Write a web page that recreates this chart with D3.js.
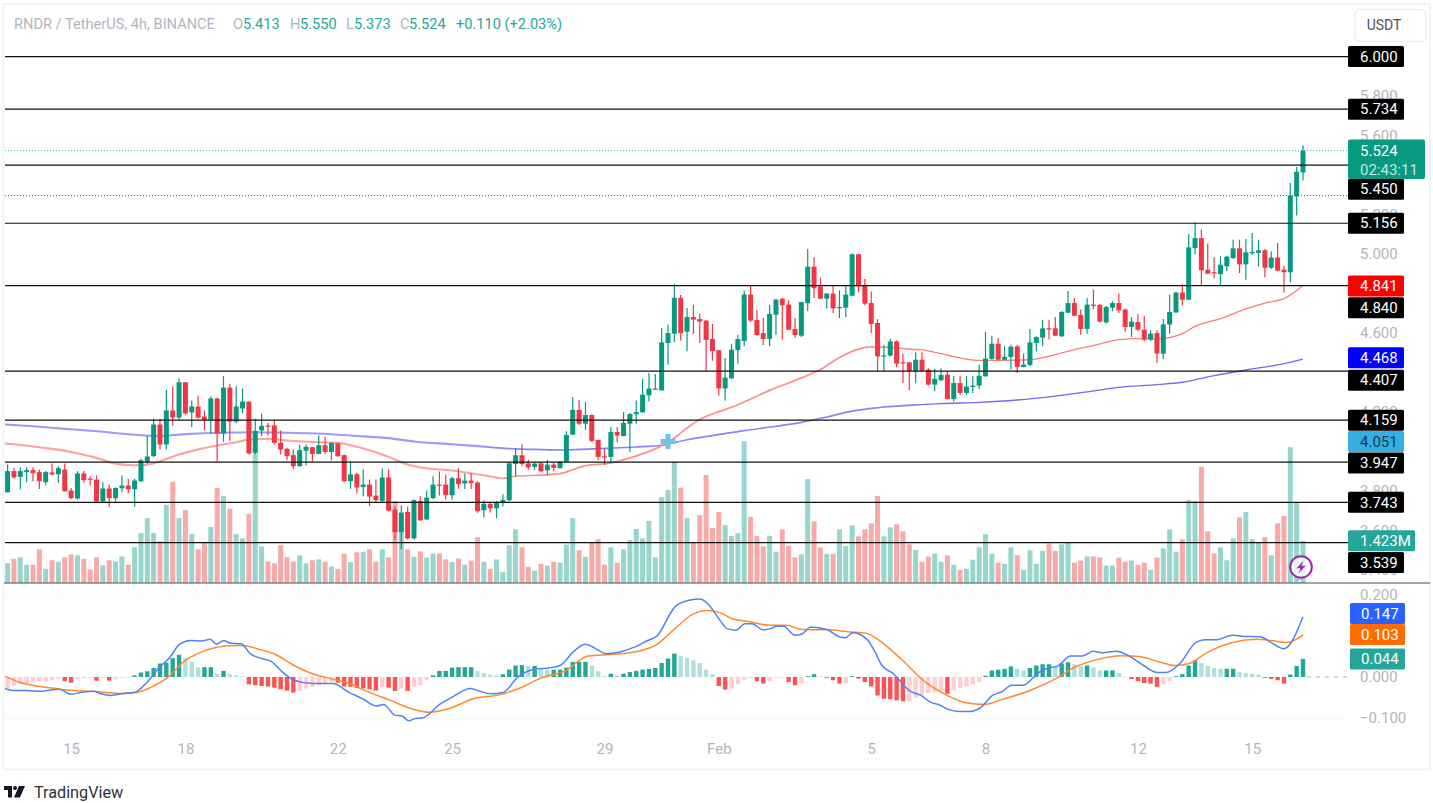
<!DOCTYPE html>
<html><head><meta charset="utf-8">
<script src="https://d3js.org/d3.v7.min.js"></script>
<style>
html,body{margin:0;padding:0;background:#fff;overflow:hidden}
text{font-family:Roboto,"Noto Sans",sans-serif}
</style></head><body><svg id="c" width="1433" height="803"></svg>
<script>
const opens=[3.794,3.901,3.872,3.896,3.906,3.896,3.845,3.894,3.885,3.909,
3.803,3.762,3.889,3.863,3.858,3.747,3.813,3.764,3.814,3.828,
3.809,3.850,3.948,3.977,4.137,4.036,4.208,4.172,4.351,4.198,
4.228,4.177,4.162,4.269,4.091,4.324,4.152,4.218,4.253,3.993,
4.107,4.132,4.132,4.044,4.014,3.982,3.926,4.004,4.022,3.988,
4.032,3.998,4.041,3.982,3.850,3.885,3.820,3.833,3.777,3.749,
3.869,3.706,3.592,3.695,3.560,3.750,3.656,3.764,3.833,3.833,
3.779,3.865,3.838,3.853,3.843,3.703,3.735,3.713,3.743,3.753,
3.937,3.981,3.940,3.922,3.940,3.905,3.934,3.917,3.949,4.086,
4.211,4.141,4.185,4.059,3.976,3.973,4.099,4.079,4.141,4.189,
4.199,4.285,4.315,4.310,4.550,4.597,4.779,4.607,4.681,4.671,
4.663,4.570,4.513,4.320,4.371,4.514,4.560,4.795,4.666,4.600,
4.570,4.693,4.774,4.744,4.621,4.587,4.751,4.936,4.835,4.774,
4.800,4.729,4.729,4.789,4.999,4.842,4.752,4.651,4.484,4.486,
4.558,4.452,4.452,4.408,4.465,4.415,4.339,4.361,4.389,4.266,
4.347,4.297,4.327,4.334,4.381,4.469,4.546,4.465,4.479,4.533,
4.428,4.438,4.550,4.577,4.624,4.624,4.584,4.703,4.752,4.692,
4.621,4.744,4.742,4.654,4.729,4.752,4.719,4.631,4.656,4.617,
4.567,4.600,4.496,4.643,4.705,4.805,4.769,5.031,5.081,4.921,
4.908,4.898,4.938,4.980,5.029,4.948,5.004,5.006,5.019,4.931,
4.982,4.921,4.908,5.292,5.413];
const closes=[3.901,3.870,3.901,3.906,3.890,3.850,3.896,3.884,3.916,3.799,
3.764,3.889,3.855,3.858,3.747,3.813,3.764,3.816,3.828,3.809,
3.853,3.956,3.975,4.137,4.036,4.208,4.172,4.351,4.193,4.228,
4.172,4.161,4.269,4.091,4.324,4.152,4.228,4.253,3.990,4.105,
4.130,4.127,4.044,4.010,3.977,3.926,4.007,4.024,3.988,4.032,
3.998,4.044,3.977,3.850,3.884,3.818,3.833,3.772,3.754,3.869,
3.701,3.592,3.691,3.560,3.754,3.652,3.767,3.833,3.830,3.779,
3.865,3.835,3.853,3.840,3.698,3.735,3.713,3.746,3.755,3.940,
3.981,3.937,3.920,3.939,3.900,3.934,3.917,3.949,4.084,4.211,
4.141,4.185,4.054,3.973,3.973,4.099,4.081,4.145,4.190,4.200,
4.288,4.319,4.319,4.553,4.600,4.779,4.600,4.681,4.668,4.658,
4.565,4.509,4.320,4.374,4.516,4.570,4.795,4.663,4.590,4.570,
4.697,4.769,4.741,4.617,4.590,4.757,4.936,4.827,4.774,4.800,
4.725,4.732,4.795,4.999,4.837,4.749,4.646,4.482,4.487,4.558,
4.445,4.449,4.408,4.465,4.410,4.339,4.368,4.388,4.266,4.347,
4.297,4.329,4.334,4.384,4.471,4.546,4.465,4.479,4.531,4.428,
4.440,4.553,4.580,4.624,4.621,4.587,4.707,4.752,4.688,4.621,
4.744,4.741,4.658,4.732,4.752,4.715,4.631,4.658,4.617,4.567,
4.597,4.496,4.644,4.707,4.805,4.769,5.034,5.081,4.918,4.901,
4.903,4.946,4.987,5.029,4.948,5.009,5.011,5.019,4.931,4.982,
4.916,4.908,5.296,5.417,5.524];
const highs=[3.934,3.917,3.921,3.921,3.921,3.909,3.901,3.939,3.926,3.939,
3.815,3.901,3.901,3.875,3.879,3.845,3.833,3.818,3.879,3.862,
3.862,3.963,4.081,4.166,4.166,4.314,4.331,4.371,4.351,4.258,
4.284,4.208,4.279,4.272,4.382,4.344,4.331,4.319,4.255,4.167,
4.191,4.145,4.159,4.107,4.019,4.010,4.034,4.036,4.024,4.081,
4.074,4.047,4.044,3.985,3.951,3.892,3.909,3.858,3.858,3.914,
3.909,3.723,3.727,3.720,3.757,3.774,3.803,3.875,3.899,3.884,
3.872,3.916,3.889,3.892,3.850,3.753,3.746,3.750,3.782,3.947,
4.015,4.037,3.959,3.946,3.946,3.959,3.946,3.952,4.103,4.276,
4.261,4.251,4.189,4.060,4.015,4.124,4.124,4.200,4.195,4.258,
4.369,4.398,4.393,4.626,4.643,4.850,4.793,4.727,4.744,4.698,
4.668,4.646,4.514,4.474,4.546,4.592,4.815,4.842,4.715,4.678,
4.742,4.774,4.778,4.766,4.676,4.759,5.026,4.984,4.881,4.803,
4.842,4.816,4.840,5.004,5.002,4.874,4.810,4.671,4.538,4.570,
4.563,4.496,4.455,4.503,4.503,4.422,4.418,4.422,4.406,4.384,
4.384,4.384,4.384,4.440,4.606,4.587,4.575,4.533,4.541,4.541,
4.496,4.621,4.584,4.668,4.668,4.681,4.710,4.813,4.778,4.719,
4.776,4.820,4.747,4.736,4.761,4.800,4.725,4.681,4.697,4.688,
4.614,4.614,4.671,4.795,4.808,4.850,5.102,5.161,5.124,5.054,
4.984,4.989,4.992,5.073,5.073,5.076,5.107,5.073,5.026,5.014,
5.056,4.941,5.360,5.441,5.550];
const lows=[3.791,3.862,3.808,3.845,3.850,3.811,3.828,3.879,3.842,3.796,
3.760,3.757,3.842,3.828,3.744,3.744,3.720,3.747,3.794,3.788,
3.720,3.845,3.939,3.973,4.010,4.010,4.132,4.162,4.188,4.125,
4.166,4.107,4.091,3.951,4.049,4.054,4.145,4.193,3.985,3.985,
4.078,4.081,4.036,3.985,3.956,3.912,3.923,3.929,3.951,3.987,
3.987,3.956,3.973,3.845,3.811,3.788,3.774,3.723,3.740,3.740,
3.696,3.551,3.507,3.555,3.555,3.649,3.652,3.760,3.777,3.757,
3.757,3.811,3.811,3.811,3.690,3.667,3.692,3.662,3.723,3.748,
3.875,3.925,3.908,3.908,3.895,3.881,3.900,3.912,3.946,4.082,
4.135,4.111,4.047,3.956,3.932,3.946,4.047,4.077,3.996,4.141,
4.195,4.253,4.313,4.307,4.440,4.553,4.563,4.508,4.595,4.550,
4.406,4.460,4.283,4.258,4.368,4.445,4.533,4.656,4.587,4.540,
4.533,4.592,4.567,4.614,4.575,4.580,4.712,4.778,4.774,4.724,
4.702,4.676,4.681,4.786,4.806,4.741,4.600,4.406,4.406,4.482,
4.428,4.347,4.310,4.346,4.405,4.334,4.305,4.356,4.263,4.254,
4.288,4.287,4.297,4.317,4.378,4.465,4.462,4.462,4.415,4.398,
4.427,4.435,4.508,4.533,4.567,4.584,4.580,4.702,4.685,4.592,
4.597,4.722,4.654,4.648,4.710,4.702,4.607,4.580,4.609,4.558,
4.558,4.449,4.469,4.597,4.702,4.741,4.766,4.999,4.844,4.898,
4.876,4.840,4.914,4.975,4.904,4.870,4.997,4.938,4.881,4.925,
4.913,4.806,4.857,5.195,5.373];
const volumes=[.66,.81,.86,.61,.61,1.13,.47,.76,.71,.86,
.96,.93,.81,.45,.86,.59,.76,.72,.89,.61,
1.20,1.68,2.19,1.68,1.40,2.64,3.42,2.19,2.46,1.65,
1.13,1.38,1.89,3.21,2.94,2.50,1.64,1.50,2.33,4.38,
1.23,.72,.66,1.27,.86,.72,.93,.66,.76,.79,
.71,.55,.47,.99,.69,1.03,1.05,1.13,.72,1.13,
.86,2.76,1.95,1.13,.88,1.06,.85,.99,.99,.79,
.70,.82,.61,.75,1.54,.71,.47,.79,.37,1.27,
1.81,1.20,.54,.41,.64,.58,.71,.68,1.29,2.19,
1.10,.88,1.36,1.47,.61,1.20,.68,1.13,1.45,1.82,
1.50,2.09,.86,2.90,3.14,4.10,3.22,2.19,1.36,2.29,
3.65,1.85,2.40,1.95,1.58,1.68,4.79,2.23,1.58,1.23,
1.58,1.05,1.81,1.25,.86,.96,3.51,2.08,1.20,.98,
.98,1.81,1.24,1.94,1.57,1.81,2.01,2.94,1.57,1.88,
1.98,1.74,1.30,1.11,.71,.89,.99,.71,.93,.61,
.44,.47,.78,1.20,1.64,.99,.68,.64,1.20,.93,
.44,1.10,.64,1.08,1.33,1.08,1.30,1.37,.68,.75,
.89,.89,.86,.58,.58,.85,.71,.75,.61,.68,
.44,.85,1.16,1.81,1.05,1.47,2.80,2.77,3.93,1.74,
.99,1.20,.76,1.50,2.21,2.40,1.47,1.36,1.54,.93,
2.01,2.26,4.59,2.71,1.423];
const ema50Index=[-.4,5,10,14,17,20,22,24,27,30,33,36,38,41,44,49,52,54,58,60,63,65,70,74,78,80,84,87,89,91,95,98,101,103,105,107,109,112,114,117,120,123,125,128,131,134,136,139,142,144,147,150,153,157,161,165,168,171,175,178,181,185,187,191,195,198,201,204];
const ema50=[4.041,4.022,3.998,3.968,3.939,3.931,3.934,3.951,3.985,4.010,4.031,4.047,4.061,4.064,4.056,4.047,4.044,4.032,3.997,3.973,3.934,3.919,3.904,3.885,3.863,3.875,3.881,3.888,3.908,3.929,3.942,3.968,4.001,4.030,4.069,4.119,4.162,4.202,4.224,4.266,4.310,4.347,4.373,4.415,4.476,4.519,4.530,4.528,4.519,4.516,4.496,4.474,4.462,4.462,4.465,4.491,4.516,4.536,4.567,4.572,4.570,4.597,4.634,4.673,4.722,4.752,4.774,4.841];
const ema200Index=[-.4,4,9,14,20,24,27,33,39,44,51,55,60,64,70,75,79,84,88,93,99,103,107,111,116,121,125,129,133,137,143,147,153,159,165,170,175,181,185,190,195,201,204];
const ema200=[4.137,4.128,4.115,4.103,4.085,4.079,4.086,4.095,4.098,4.095,4.088,4.079,4.068,4.051,4.037,4.025,4.015,4.010,4.008,4.015,4.023,4.032,4.060,4.081,4.106,4.128,4.148,4.175,4.205,4.222,4.236,4.243,4.249,4.261,4.281,4.302,4.325,4.339,4.351,4.384,4.413,4.445,4.468];
const macdIndex=[-.4,1,3.1,5,8.2,10,11.8,13.6,14.7,16.2,18.3,20.1,22,23.7,25.6,27.1,28.8,30.6,31.9,32.9,34,35,36.8,38.2,40,41.5,43.3,45.1,48,51.2,53.8,55.9,58.1,59.2,61,62.1,63.2,64.2,65.3,68.2,70,72.9,74.4,76.2,78,80.5,83,85.2,87,89.2,91,92.4,94.3,96.4,98.9,100.8,102.2,105.1,107.3,109.1,110.7,112.2,113.3,114.7,116.1,117.2,119,120.1,121.2,122.2,124,125.1,126.5,127.6,129,131.2,131.9,133.1,134.1,135.5,136.6,137.7,139.5,142,143.8,145.6,146.6,148.1,149.9,151.6,153.1,155.1,156.7,158.1,159.9,162.4,163.8,165.3,167.4,169.2,171,172.4,174.6,176.4,178.9,181.1,182.5,184.6,187.2,188.6,190.4,192.9,194.7,197.2,199,201,204];
const macdLine=[-.028,-.033,-.033,-.035,-.030,-.042,-.037,-.035,-.041,-.045,-.040,-.037,-.012,.020,.049,.080,.089,.088,.092,.080,.089,.083,.081,.057,.045,.038,.012,-.008,-.016,-.016,-.038,-.053,-.071,-.067,-.093,-.095,-.107,-.101,-.100,-.065,-.049,-.028,-.035,-.041,-.038,.002,.019,.022,.028,.063,.080,.071,.057,.061,.074,.089,.099,.171,.187,.190,.171,.138,.118,.114,.130,.130,.115,.118,.124,.124,.102,.105,.122,.120,.116,.097,.096,.108,.105,.089,.061,.028,.008,-.033,-.045,-.063,-.067,-.079,-.084,-.084,-.076,-.045,-.035,-.020,-.020,.011,.022,.026,.051,.051,.063,.059,.063,.053,.028,.011,.011,.033,.085,.091,.091,.102,.099,.098,.084,.069,.147];
const signalIndex=[-.4,1.7,3.9,7.5,10.4,13.3,17.6,20.5,22.7,25.6,27.7,29.9,32.8,35,37.1,39.3,42.2,45.1,48,50.9,53.8,56.6,60.3,63.9,66.4,69.7,73.3,77.6,80.5,84.1,87.7,91.4,95,99.3,102.2,105.1,108,110.2,112.2,114.3,116.5,120.1,122.6,125.1,129.4,132.6,135.1,137.3,140.9,144.5,148.1,150.9,153.8,156.7,161,165.3,168.1,171.7,175.3,178.2,181.1,183.9,186.1,188.6,192.9,196.8,199,201.5,204];
const signalLine=[.002,-.012,-.020,-.028,-.033,-.035,-.040,-.037,-.024,.004,.037,.057,.072,.076,.077,.069,.055,.028,.008,-.004,-.016,-.035,-.057,-.079,-.086,-.076,-.053,-.043,-.028,-.002,.014,.051,.055,.063,.079,.118,.154,.162,.157,.141,.136,.126,.126,.116,.115,.110,.107,.089,.041,-.012,-.046,-.063,-.067,-.054,-.033,-.002,.024,.043,.052,.050,.038,.028,.033,.057,.084,.092,.089,.084,.103];
const histogram=[-.027,-.022,-.016,-.015,-.013,-.011,-.011,-.007,-.004,-.010,
-.014,-.005,-.003,-.002,-.009,-.002,-.009,-.006,-.002,-.001,
.004,.011,.014,.022,.033,.035,.046,.054,.046,.037,
.024,.024,.024,.008,.015,.007,.004,.002,-.018,-.020,
-.022,-.023,-.026,-.030,-.033,-.038,-.034,-.028,-.024,-.020,
-.016,-.012,-.014,-.023,-.024,-.027,-.028,-.030,-.033,-.024,
-.026,-.034,-.028,-.034,-.024,-.020,-.007,.004,.015,.015,
.023,.024,.024,.024,.014,.010,.006,.004,.007,.018,
.028,.029,.027,.027,.020,.018,.018,.018,.023,.037,
.037,.037,.028,.014,.002,.008,.004,.008,.012,.015,
.018,.020,.022,.034,.045,.057,.051,.047,.041,.034,
.018,.007,-.022,-.031,-.028,-.018,-.007,-.003,-.010,-.016,
-.010,-.002,-.002,-.012,-.020,-.015,.002,.007,.001,-.002,
-.008,-.016,-.015,.002,-.004,-.012,-.023,-.045,-.053,-.054,
-.057,-.059,-.059,-.050,-.045,-.039,-.037,-.034,-.041,-.033,
-.026,-.023,-.018,-.012,.003,.016,.018,.020,.026,.020,
.016,.022,.028,.031,.031,.027,.033,.036,.031,.026,
.028,.023,.016,.016,.016,.010,.001,-.005,-.010,-.015,
-.016,-.024,-.018,-.010,.002,.007,.028,.041,.034,.027,
.022,.020,.020,.020,.012,.010,.008,.006,-.002,-.005,
-.008,-.016,.006,.027,.044];
const dayIndex=[10,28,52,70,94,112,136,154,178,196];
const dayLabels=["15","18","22","25","29","Feb","5","8","12","15"];
const priceTicks=[5.8,5.6,5.2,5,4.6,4.2,3.8,3.6,3.4];
const macdTicks=[.2,0,-.1];
const levels=[6,5.734,5.45,5.156,4.84,4.407,4.159,3.947,3.743,3.539];
const levelNudge=[0,0,24,0,22,9,0,0,0,20];
const lastPrice=5.524, priorLine=5.296, ema50Last=4.841, ema200Last=4.468, markerPrice=4.051, markerIndex=104;

const W=1433,H=803,GREEN="#089981",RED="#f23645",GREY="#b2b5be";
const svg=d3.select("#c");
const x=d3.scaleLinear().domain([0,204]).range([7.6,1303]);
const y=d3.scaleLinear().domain([6,3.539]).range([56.6,542.6]);
const v=d3.scaleLinear().domain([0,1.423]).range([582.7,540.7]);
const m=d3.scaleLinear().domain([-.1,.2]).range([718,595]);
const idx=d3.range(opens.length);
const up=i=>closes[i]>=opens[i];

// frame
svg.append("rect").attr("x",3.5).attr("y",4).attr("width",1426.5).attr("height",765.5).attr("fill","none").attr("stroke","#f0f3fa").attr("stroke-width",2);
// faint grid
svg.append("g").selectAll("line").data(macdTicks).join("line").attr("x1",5).attr("x2",1348).attr("y1",d=>m(d)).attr("y2",d=>m(d)).attr("stroke","#f6f7fb");

// axes
const pa=svg.append("g").attr("transform","translate(1360,0)").call(d3.axisRight(y).tickValues(priceTicks).tickSize(0).tickPadding(0).tickFormat(d3.format(".3f")));
const ma=svg.append("g").attr("transform","translate(1360,0)").call(d3.axisRight(m).tickValues(macdTicks).tickSize(0).tickPadding(0).tickFormat(d=>d3.format(".3f")(d).replace("-","\u2212")));
const ta=svg.append("g").attr("transform","translate(0,743)").call(d3.axisBottom(x).tickValues(dayIndex).tickSize(0).tickPadding(0).tickFormat((d,i)=>dayLabels[i]));
[pa,ma,ta].forEach(a=>{a.select(".domain").remove();a.selectAll("text").attr("fill",GREY).attr("font-size",15).attr("font-family","Roboto")});

// volume
svg.append("g").selectAll("rect").data(idx).join("rect")
 .attr("x",i=>x(i)-2.5).attr("width",5).attr("y",i=>v(volumes[i])).attr("height",i=>v(0)-v(volumes[i]))
 .attr("fill",i=>up(i)?"#97d5cd":"#f8aaa9");

// moving averages: soft and wide on the left of the picture, finer to the right
const line=(xs,ys,sx,sy,keep)=>d3.line().defined(keep||(()=>true)).x(i=>sx(xs[i])).y(i=>sy(ys[i])).curve(d3.curveMonotoneX)(d3.range(xs.length));
function maLine(xs,ys,soft,mid,hard){
 const seg=(a,b,col,w)=>svg.append("path").attr("d",line(xs,ys,x,y,i=>xs[i]>=a&&xs[i]<=b)).attr("fill","none").attr("stroke",col).attr("stroke-width",w);
 const cut1=xs.find(d=>d>=75),cut2=xs.find(d=>d>=143);
 seg(-1,cut1,soft,2.1);seg(cut1,cut2,mid,1.7);seg(cut2,205,hard,1.3);
}
maLine(ema200Index,ema200,"#9d9bf8","#8886f6","#6f6cf2");
maLine(ema50Index,ema50,"#f9a3a2","#f8908f","#f77e7e");

// candles
const cg=svg.append("g");
cg.selectAll("line").data(idx).join("line").attr("x1",x).attr("x2",x).attr("y1",i=>y(highs[i])).attr("y2",i=>y(lows[i]))
 .attr("stroke",i=>up(i)?GREEN:RED).attr("stroke-width",1.2);
cg.selectAll("rect").data(idx).join("rect").attr("x",i=>x(i)-2.5).attr("width",5)
 .attr("y",i=>y(Math.max(opens[i],closes[i]))).attr("height",i=>Math.max(1.2,Math.abs(y(opens[i])-y(closes[i]))))
 .attr("fill",i=>up(i)?GREEN:RED);

// marker
svg.append("path").attr("transform",`translate(${x(markerIndex)},${y(markerPrice)})`).attr("d",d3.symbol(d3.symbolCross,125)()).attr("fill","#6cc3ec");

// level lines
svg.append("g").selectAll("line").data(levels).join("line").attr("x1",5).attr("x2",1348).attr("y1",d=>y(d)).attr("y2",d=>y(d)).attr("stroke","#111").attr("stroke-width",1.2);
svg.append("line").attr("x1",5).attr("x2",1348).attr("y1",y(lastPrice)).attr("y2",y(lastPrice)).attr("stroke","#3fb3a0").attr("stroke-width",1).attr("stroke-dasharray","1 2");
svg.append("line").attr("x1",5).attr("x2",1348).attr("y1",y(priorLine)).attr("y2",y(priorLine)).attr("stroke","#555").attr("stroke-width",1).attr("stroke-dasharray","1 2");
// pane separator
svg.append("line").attr("x1",4).attr("x2",1430).attr("y1",583).attr("y2",583).attr("stroke","#4a4a4a").attr("stroke-width",1.2);

// histogram
const hcol=i=>{const d=histogram[i],p=i?histogram[i-1]:d;return d>=0?(d>=p?"#26a69a":"#b2dfdb"):(d<p?"#ff5252":"#ffcdd2")};
svg.append("g").selectAll("rect").data(idx).join("rect").attr("x",i=>x(i)-2.2).attr("width",4.4)
 .attr("y",i=>Math.min(m(0),m(histogram[i]))).attr("height",i=>Math.abs(m(0)-m(histogram[i]))).attr("fill",hcol);
svg.append("line").attr("x1",x(204)+4).attr("x2",1350).attr("y1",m(0)).attr("y2",m(0)).attr("stroke","#b2b5be").attr("stroke-dasharray","4 5");
svg.append("path").attr("d",line(signalIndex,signalLine,x,m)).attr("fill","none").attr("stroke","#ff8a2b").attr("stroke-width",1.5);
svg.append("path").attr("d",line(macdIndex,macdLine,x,m)).attr("fill","none").attr("stroke","#5081f5").attr("stroke-width",1.5);

// value labels
function tag(cy,w,txt,bg,fg){const g=svg.append("g");
 g.append("rect").attr("x",1348).attr("y",cy-10.5).attr("width",w).attr("height",21).attr("rx",1.5).attr("fill",bg);
 g.append("text").attr("x",1360).attr("y",cy+5.2).attr("fill",fg).attr("font-size",15).text(txt);}
levels.forEach((d,i)=>tag(y(d)+levelNudge[i]+(d===3.947?1:0),56,d3.format(".3f")(d),"#000","#fff"));
tag(y(ema50Last)+.5,56,d3.format(".3f")(ema50Last),"#ff0000","#fff");
tag(y(ema200Last)-1.5,56,d3.format(".3f")(ema200Last),"#0000ff","#fff");
tag(y(markerPrice),56,d3.format(".3f")(markerPrice),"#36aee0","#0c3c56");
tag(v(volumes[204]),67,"1.423M","#26a69a","#fff");
// last price tag
const lp=svg.append("g");
lp.append("rect").attr("x",1348).attr("y",y(lastPrice)-11).attr("width",77).attr("height",39.5).attr("rx",2).attr("fill",GREEN);
lp.append("text").attr("x",1360).attr("y",y(lastPrice)+5.5).attr("fill","#fff").attr("font-size",15).text(d3.format(".3f")(lastPrice));
lp.append("text").attr("x",1360).attr("y",y(lastPrice)+24.5).attr("fill","#c4e8e0").attr("font-size",15).text("02:43:11");
// macd tags
function mtag(val,cy,bg){svg.append("rect").attr("x",1350).attr("y",cy-10.5).attr("width",55).attr("height",21).attr("rx",1.5).attr("fill",bg);
 svg.append("text").attr("x",1361).attr("y",cy+5.2).attr("fill","#fff").attr("font-size",15).text(d3.format(".3f")(val));}
mtag(macdLine[macdLine.length-1],613.5,"#2962ff");
mtag(signalLine[signalLine.length-1],634.5,"#ff6d00");
mtag(histogram[204],659,"#26a69a");

// bolt icon
const bolt=svg.append("g").attr("transform","translate(1301,567)");
bolt.append("circle").attr("r",10.8).attr("fill","#fff").attr("fill-opacity",.75).attr("stroke","#9c27b0").attr("stroke-width",2);
bolt.append("path").attr("d","M2.5-6.5L-4.5 1.2H-.5L-2.5 6.5L4.5-1.2H.5Z").attr("fill","#9c27b0");

// header
const hdr=[[14,"RNDR / TetherUS, 4h, BINANCE",GREY],[233,"O",GREY],[243,d3.format(".3f")(opens[204]),"#26a69a"],[290,"H",GREY],[300,d3.format(".3f")(highs[204]),"#26a69a"],[346,"L",GREY],[354,d3.format(".3f")(lows[204]),"#26a69a"],[400,"C",GREY],[409,d3.format(".3f")(closes[204]),"#26a69a"],[456,"+0.110 (+2.03%)","#26a69a"]];
svg.append("g").selectAll("text").data(hdr).join("text").attr("x",d=>d[0]).attr("y",29).attr("font-size",14.6).attr("fill",d=>d[2]).text(d=>d[1]);

// USDT button
svg.append("rect").attr("x",1355).attr("y",9.5).attr("width",71).attr("height",32).attr("rx",5).attr("fill","#fff").attr("stroke","#eceef3").attr("stroke-width",1.5);
svg.append("text").attr("x",1384).attr("y",30).attr("text-anchor","middle").attr("font-size",14).attr("fill","#50535e").text("USDT");

// logo
const logo=svg.append("g").attr("transform","translate(4,786)").attr("fill","#131722");
logo.append("path").attr("d","M0 0H8V11.5H4V4H0Z");
logo.append("circle").attr("cx",11).attr("cy",2).attr("r",2);
logo.append("path").attr("d","M15 0H21L16 11.5H10Z");
svg.append("text").attr("x",34).attr("y",798).attr("font-size",16.2).attr("fill","#2e3138").text("TradingView");
</script></body></html>
